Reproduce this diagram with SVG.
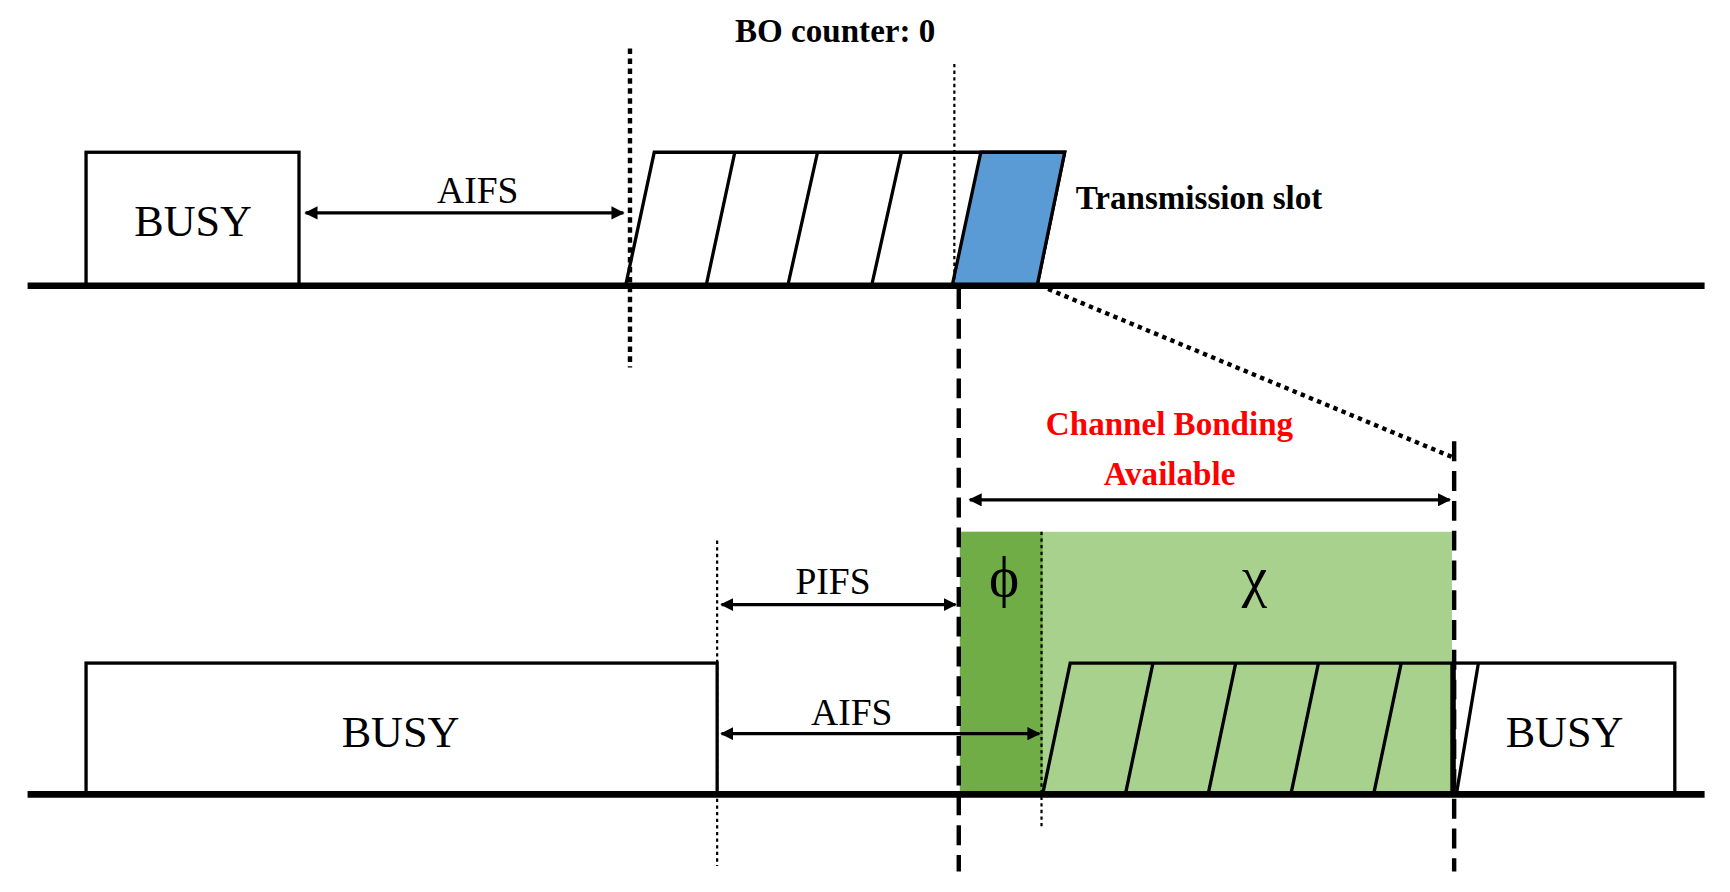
<svg xmlns="http://www.w3.org/2000/svg" width="1730" height="892" viewBox="0 0 1730 892">
<defs>
<marker id="ah" viewBox="0 0 10 10" refX="9" refY="5" markerWidth="4" markerHeight="4" orient="auto-start-reverse"><path d="M0,0L10,5L0,10z" fill="#000"/></marker>
<style>
.t{font-family:"Liberation Serif",serif;fill:#000}
.b{stroke:#000;stroke-width:3;fill:#fff}
.s{stroke:#000;stroke-width:3}
.base{stroke:#000;stroke-width:6}
.arr{stroke:#000;stroke-width:3;marker-start:url(#ah);marker-end:url(#ah)}
</style>
</defs>
<rect width="1730" height="892" fill="#fff"/>
<g transform="scale(1.1033)">
<g id="green">
<rect x="870" y="482" width="446" height="238" fill="#A9D18E"/>
<rect x="870" y="482" width="75" height="238" fill="#70AD47"/>
</g>
<g id="busy1"><rect class="b" x="78" y="138" width="193" height="121"/><text class="t" x="175" y="214" font-size="40" text-anchor="middle">BUSY</text></g>
<g id="backoff1">
<polygon class="b" points="593,138 965,138 940,259 567,259"/>
<polygon points="889,138 965,138 940,259 863,259" fill="#5B9BD5" stroke="#000" stroke-width="3"/>
<path class="s" d="M666,138L640,259M741,138L714,259M817,138L790,259"/>
</g>
<g id="busy2"><rect class="b" x="78" y="601" width="572" height="119"/><text class="t" x="363" y="677" font-size="40" text-anchor="middle">BUSY</text></g>
<g id="backoff2">
<polygon points="970,601 1316,601 1316,720 945,720" fill="none" stroke="#000" stroke-width="3"/>
<path class="s" d="M1045,601L1020,720M1120,601L1095,720M1195,601L1170,720M1270,601L1245,720"/>
</g>
<g id="busy3"><rect class="b" x="1318" y="601" width="200" height="119"/><path class="s" d="M1340,601L1320,720"/><text class="t" x="1418" y="677" font-size="40" text-anchor="middle">BUSY</text></g>
<g id="connectors">
<line class="base" x1="25" y1="259" x2="1545" y2="259"/>
<line class="base" x1="25" y1="720" x2="1545" y2="720"/>
<line x1="571" y1="44" x2="571" y2="333" stroke="#000" stroke-width="4" stroke-dasharray="5,4"/>
<line x1="865" y1="58" x2="865" y2="259" stroke="#000" stroke-width="2" stroke-dasharray="3,3"/>
<line x1="869" y1="262" x2="869" y2="790" stroke="#000" stroke-width="4" stroke-dasharray="18,9"/>
<line x1="1318" y1="400" x2="1318" y2="790" stroke="#000" stroke-width="4" stroke-dasharray="18,9"/>
<line x1="950" y1="262" x2="1318" y2="415" stroke="#000" stroke-width="4" stroke-dasharray="4,4"/>
<line x1="944" y1="482" x2="944" y2="750" stroke="#000" stroke-width="2" stroke-dasharray="3,3"/>
<line x1="650" y1="490" x2="650" y2="785" stroke="#000" stroke-width="2" stroke-dasharray="3,3"/>
<line class="arr" x1="277" y1="193" x2="565" y2="193"/>
<line class="arr" x1="879" y1="453" x2="1314" y2="453"/>
<line class="arr" x1="654" y1="548" x2="866" y2="548"/>
<line class="arr" x1="654" y1="665" x2="942" y2="665"/>
</g>
<g id="labels">
<text class="t" x="433" y="184" font-size="34" text-anchor="middle">AIFS</text>
<text class="t" x="757" y="38" font-size="30" font-weight="bold" text-anchor="middle">BO counter: 0</text>
<text class="t" x="975" y="189" font-size="30" font-weight="bold">Transmission slot</text>
<text class="t" x="1060" y="394" font-size="30" font-weight="bold" text-anchor="middle" style="fill:#FF0000">Channel Bonding</text>
<text class="t" x="1060" y="440" font-size="30" font-weight="bold" text-anchor="middle" style="fill:#FF0000">Available</text>
<text class="t" x="755" y="538" font-size="34" text-anchor="middle">PIFS</text>
<text class="t" x="772" y="657" font-size="34" text-anchor="middle">AIFS</text>
<text class="t" x="910" y="540" font-size="52" text-anchor="middle">ϕ</text>
<text class="t" x="1137" y="540" font-size="52" text-anchor="middle">χ</text>
</g>
</g>
</svg>
